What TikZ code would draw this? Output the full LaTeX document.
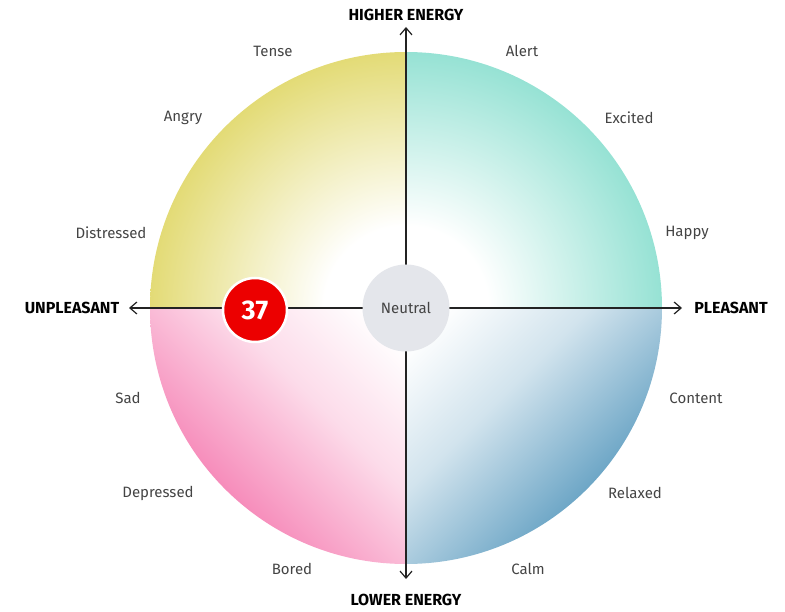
\documentclass[tikz,border=0pt]{standalone}
\usepackage{fontspec}
\setmainfont{Fira Sans}
\usetikzlibrary{arrows.meta}
\definecolor{ink}{RGB}{35,35,35}
\definecolor{lab}{RGB}{68,68,68}
\definecolor{yq}{RGB}{227,219,118}
\definecolor{tq}{RGB}{150,226,212}
\definecolor{bq}{RGB}{104,163,196}
\definecolor{pq}{RGB}{246,136,184}
\definecolor{neu}{RGB}{228,230,235}
\definecolor{badge}{RGB}{236,0,0}
\pgfdeclareradialshading{yelsh}{\pgfpoint{0bp}{0bp}}
  {color(0bp)=(white); color(8bp)=(white); color(25bp)=(yq); color(50bp)=(yq)}
\pgfdeclareradialshading{tealsh}{\pgfpoint{0bp}{0bp}}
  {color(0bp)=(white); color(8bp)=(white); color(25bp)=(tq); color(50bp)=(tq)}
\pgfdeclareverticalshading{bluesh}{100bp}
  {color(0bp)=(bq); color(34bp)=(bq); color(60bp)=(bq!30!white); color(80bp)=(white); color(100bp)=(white)}
\pgfdeclareverticalshading{pinksh}{100bp}
  {color(0bp)=(pq); color(34bp)=(pq); color(60bp)=(pq!30!white); color(80bp)=(white); color(100bp)=(white)}

\begin{document}
\begin{tikzpicture}[x=1pt,y=1pt,
  mood/.style={font=\fontsize{15}{17}\selectfont,text=lab},
  pole/.style={font=\fontsize{16}{18}\selectfont\bfseries,text=black},
  axis/.style={draw=ink,line width=1.2pt,-{Straight Barb[length=7pt,width=12pt]}}]
  \useasboundingbox (0,0) rectangle (785,611);
  \coordinate (c) at (406,303);
  \coordinate (east) at (682,303);
  \coordinate (west) at (129,303);
  \coordinate (north) at (406,584);
  \coordinate (south) at (406,32);
  % quadrants
  \begin{scope}
    \clip (c) -- ++(0,256) arc (90:180:256) -- cycle;
    \shade[shading=yelsh] (c) circle (256);
  \end{scope}
  \begin{scope}
    \clip (c) -- ++(256,0) arc (0:90:256) -- cycle;
    \shade[shading=tealsh] (c) circle (256);
  \end{scope}
  \begin{scope}
    \clip (c) -- ++(0,-256) arc (270:360:256) -- cycle;
    \shade[shading=bluesh,shading angle=45] (406,47) rectangle (662,303);
  \end{scope}
  \begin{scope}
    \clip (c) -- ++(-256,0) arc (180:270:256) -- cycle;
    \shade[shading=pinksh,shading angle=-45] (150,47) rectangle (406,303);
  \end{scope}
  % axes
  \draw[axis] (c) -- (east);
  \draw[axis] (c) -- (west);
  \draw[axis] (c) -- (north);
  \draw[axis] (c) -- (south);
  \node[pole] (higher) at (406,596) {HIGHER ENERGY};
  \node[pole] (lower) at (406,11) {LOWER ENERGY};
  \node[pole] (unpleasant) at (72,303) {UNPLEASANT};
  \node[pole] (pleasant) at (731,303) {PLEASANT};
  % moods
  \foreach \n/\x/\y/\t in {tense/273/560/Tense, alert/522/560/Alert,
      angry/183/493/Angry, excited/629/493/Excited,
      distressed/111/378/Distressed, happy/687/378/Happy,
      sad/128/213/Sad, content/696/213/Content,
      depressed/158/118/Depressed, relaxed/635/118/Relaxed,
      bored/292/42/Bored, calm/528/42/Calm}
    {\node[mood] (\n) at (\x,\y) {\t};}
  \node[circle,fill=neu,minimum size=87pt,mood] (neutral) at (c) {Neutral};
  \node[circle,fill=badge,draw=white,line width=2.5pt,minimum size=64pt,
    text=white,font=\fontsize{27}{30}\selectfont\bfseries] (score) at (255,301) {37};
\end{tikzpicture}
\end{document}
